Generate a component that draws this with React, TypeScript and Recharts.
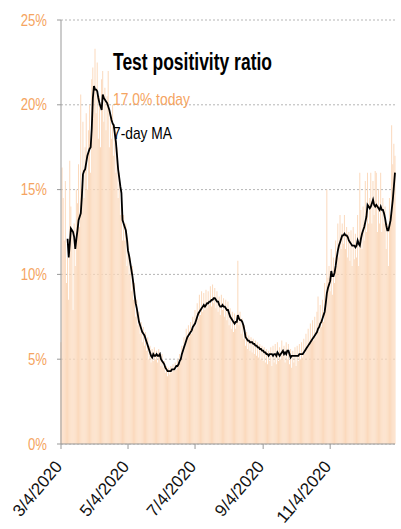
import { ComposedChart, Bar, Line, XAxis, YAxis, CartesianGrid } from "recharts";

const ORANGE = "#f5a461";
const BAR_FILL = "#fbd9bc";
const SANS = "'Liberation Sans', Arial, sans-serif";

// daily test positivity, % (one value per day starting 3/4/2020)
const DAILY = [
  6.0, 16.3, 14.5, 12.0, 15.5, 9.5, 11.0, 8.5, 16.7, 14.0,
  12.5, 7.9, 13.0, 10.5, 15.0, 14.2, 16.5, 12.8, 20.6, 15.0,
  19.0, 14.5, 17.5, 19.5, 15.0, 18.5, 20.0, 16.0, 21.5, 22.2,
  21.0, 23.3, 19.5, 22.5, 18.0, 20.5, 17.5, 21.5, 22.0, 19.0,
  21.0, 18.5, 20.5, 22.0, 17.5, 19.5, 18.0, 20.0, 17.0, 18.5,
  16.0, 17.5, 14.5, 16.0, 13.5, 14.5, 12.0, 13.5, 12.0, 13.0,
  10.5, 12.0, 10.0, 11.0, 9.0, 10.5, 8.5, 9.5, 7.5, 8.5,
  7.0, 7.8, 6.5, 7.2, 6.0, 6.9, 5.8, 6.6, 5.5, 6.3,
  5.0, 5.8, 4.8, 5.6, 4.9, 5.7, 5.0, 5.5, 4.8, 5.6,
  5.1, 4.6, 5.3, 4.5, 4.9, 4.2, 4.6, 4.0, 4.5, 4.1,
  4.6, 4.2, 4.7, 4.3, 4.8, 4.4, 5.0, 4.6, 5.3, 5.0,
  5.8, 5.4, 6.3, 5.8, 6.8, 6.2, 7.0, 6.3, 7.2, 6.5,
  7.5, 6.8, 7.9, 7.0, 8.3, 7.4, 8.8, 7.6, 9.0, 7.8,
  8.9, 7.9, 9.1, 8.0, 9.0, 8.2, 9.3, 8.1, 9.4, 8.3,
  9.2, 8.0, 9.0, 7.8, 8.7, 7.6, 8.8, 7.9, 8.6, 7.5,
  8.5, 7.3, 8.4, 7.0, 8.0, 6.8, 7.8, 6.6, 7.7, 6.8,
  7.6, 10.8, 7.0, 7.8, 6.5, 7.4, 6.2, 7.0, 5.8, 6.6,
  5.6, 6.4, 5.5, 6.3, 5.4, 6.2, 5.3, 6.1, 5.2, 6.0,
  5.1, 5.9, 5.0, 5.8, 4.9, 5.7, 4.8, 5.6, 4.7, 5.5,
  4.9, 5.7, 4.6, 5.8, 4.8, 5.9, 4.7, 6.0, 4.9, 5.7,
  5.0, 6.1, 5.2, 5.8, 4.8, 6.0, 5.0, 5.9, 4.7, 5.6,
  4.5, 5.5, 4.8, 5.7, 4.6, 5.8, 4.9, 5.9, 5.0, 6.0,
  5.1, 6.2, 5.3, 6.5, 5.6, 6.8, 5.8, 7.1, 6.0, 7.3,
  6.1, 7.5, 6.3, 7.8, 8.7, 6.6, 8.2, 6.9, 8.5, 7.2,
  9.5, 8.0, 15.0, 9.8, 10.5, 9.0, 11.5, 8.8, 11.0, 9.5,
  12.0, 10.5, 13.0, 11.0, 13.5, 11.5, 13.0, 11.8, 13.5, 11.5,
  12.8, 11.0, 12.5, 10.8, 12.6, 10.5, 12.8, 10.9, 12.4, 11.0,
  13.5, 10.5, 16.0, 13.8, 11.5, 14.0, 12.0, 15.5, 12.5, 16.0,
  13.0, 14.5, 16.0, 13.0, 15.5, 13.5, 16.1, 16.0, 12.5, 15.0,
  13.0, 16.0, 12.5, 14.5, 13.0, 14.0, 11.5, 13.0, 10.5, 14.5,
  13.5, 18.8, 16.5, 17.7, 17.0,
];

// 7-day moving average, %
const MA7 = [
  null, null, null, null, null, null, 12.1, 11.0, 11.8, 12.7,
  12.6, 12.5, 12.2, 11.5, 12.1, 12.6, 13.2, 13.4, 13.6, 14.6,
  15.9, 16.1, 16.2, 16.6, 17.0, 17.2, 17.4, 17.5, 18.6, 20.4,
  21.1, 20.9, 20.9, 20.8, 20.4, 20.1, 19.9, 19.7, 20.6, 20.4,
  20.3, 20.2, 20.1, 19.9, 19.7, 19.4, 19.1, 18.9, 18.8, 18.3,
  17.8, 17.0, 16.2, 15.7, 15.2, 14.8, 13.2, 13.0, 12.8, 12.6,
  12.1, 11.4, 11.1, 10.7, 10.3, 9.9, 9.4, 8.8, 8.3, 8.0,
  7.6, 7.2, 7.0, 6.8, 6.6, 6.5, 6.4, 6.2, 6.0, 5.8,
  5.6, 5.4, 5.2, 5.1, 5.3, 5.2, 5.2, 5.3, 5.2, 5.2,
  5.3, 5.0, 4.9, 4.8, 4.7, 4.5, 4.4, 4.3, 4.3, 4.3,
  4.3, 4.4, 4.4, 4.4, 4.5, 4.6, 4.6, 4.7, 4.9, 5.0,
  5.3, 5.5, 5.7, 5.9, 6.1, 6.3, 6.4, 6.5, 6.6, 6.7,
  6.9, 7.0, 7.1, 7.3, 7.5, 7.7, 7.8, 7.9, 8.0, 8.1,
  8.2, 8.1, 8.2, 8.3, 8.3, 8.4, 8.4, 8.5, 8.5, 8.6,
  8.6, 8.5, 8.4, 8.4, 8.2, 8.1, 8.1, 8.2, 8.1, 8.1,
  8.0, 7.9, 7.9, 7.7, 7.5, 7.4, 7.3, 7.2, 7.1, 7.2,
  7.2, 7.6, 7.4, 7.3, 7.3, 7.2, 7.0, 6.7, 6.3, 6.2,
  6.1, 6.1, 6.0, 6.0, 6.0, 5.9, 5.9, 5.8, 5.8, 5.7,
  5.7, 5.6, 5.6, 5.5, 5.5, 5.4, 5.4, 5.3, 5.3, 5.2,
  5.3, 5.3, 5.3, 5.2, 5.3, 5.3, 5.2, 5.4, 5.3, 5.2,
  5.3, 5.4, 5.5, 5.3, 5.4, 5.3, 5.5, 5.5, 5.3, 5.1,
  5.2, 5.2, 5.2, 5.2, 5.2, 5.2, 5.2, 5.3, 5.3, 5.3,
  5.3, 5.4, 5.5, 5.6, 5.7, 5.8, 5.9, 6.0, 6.1, 6.2,
  6.3, 6.4, 6.5, 6.6, 6.8, 6.9, 7.1, 7.2, 7.4, 7.6,
  7.8, 8.3, 8.9, 9.2, 9.4, 9.6, 10.2, 9.9, 9.9, 10.1,
  10.5, 11.0, 11.4, 11.7, 11.9, 12.1, 12.3, 12.3, 12.4, 12.3,
  12.3, 12.2, 12.0, 11.9, 11.8, 11.7, 11.7, 11.7, 11.6, 11.7,
  12.0, 11.8, 11.7, 12.1, 12.4, 12.6, 12.8, 13.1, 13.4, 14.1,
  14.0, 13.9, 14.0, 14.2, 14.4, 14.1, 14.0, 14.1, 14.0, 13.9,
  13.8, 14.0, 13.8, 13.8, 13.6, 13.3, 12.9, 12.6, 12.6, 12.9,
  13.2, 13.8, 14.4, 15.2, 16.0,
];

const TICK_DAYS = [0, 61, 122, 184, 245];
const TICK_LABELS = ["3/4/2020", "5/4/2020", "7/4/2020", "9/4/2020", "11/4/2020"];
const Y_TICKS = [0, 5, 10, 15, 20, 25];

const data = DAILY.map((v, i) => ({ day: i, daily: v, ma: MA7[i] }));

const DateTick = ({ x, y, payload }: any) => {
  const idx = TICK_DAYS.indexOf(payload.value);
  return (
    <g transform={`translate(${x + 2},${y + 16})`}>
      <text
        x={0}
        y={0}
        textAnchor="end"
        transform="rotate(-50)"
        fill="#111"
        fontSize={17}
        fontFamily={SANS}
      >
        {TICK_LABELS[idx]}
      </text>
    </g>
  );
};

const PctTick = ({ x, y, payload }: any) => (
  <text
    transform={`translate(${x},${y}) scale(0.82,1)`}
    textAnchor="end"
    dy="0.355em"
    fill={ORANGE}
    fontSize={16}
    fontFamily={SANS}
  >
    {`${payload.value}%`}
  </text>
);

export default function App() {
  return (
    <div style={{ position: "relative", width: 401, height: 529 }}>
      <style>{`body{margin:0;background:#fff}`}</style>
      <ComposedChart
        width={401}
        height={529}
        data={data}
        margin={{ top: 20, right: 6, bottom: 0, left: 0 }}
        barCategoryGap={0}
      >
        <CartesianGrid
          horizontal
          vertical={false}
          stroke="#b5b5b5"
          strokeDasharray="2 2"
        />
        <XAxis
          dataKey="day"
          type="number"
          domain={[0, 304]}
          ticks={TICK_DAYS}
          interval={0}
          height={85}
          axisLine={{ stroke: "#999" }}
          tickLine={{ stroke: "#999" }}
          tickSize={5}
          tick={<DateTick />}
        />
        <YAxis
          type="number"
          domain={[0, 25]}
          ticks={Y_TICKS}
          width={61}
          axisLine={{ stroke: "#999" }}
          tickLine={{ stroke: "#999" }}
          tickSize={4}
          tickMargin={10}
          tick={<PctTick />}
        />
        <Bar dataKey="daily" fill={BAR_FILL} barSize={1} isAnimationActive={false} />
        <Line
          dataKey="ma"
          type="linear"
          stroke="#000"
          strokeWidth={1.8}
          dot={false}
          isAnimationActive={false}
        />
      </ComposedChart>
      <svg
        width={401}
        height={529}
        style={{ position: "absolute", left: 0, top: 0, pointerEvents: "none" }}
      >
        <text
          x={113}
          y={70}
          fontFamily={SANS}
          fontWeight="bold"
          fontSize={23}
          fill="#000"
          textLength={159}
          lengthAdjust="spacingAndGlyphs"
        >
          Test positivity ratio
        </text>
        <text
          x={113}
          y={105}
          fontFamily={SANS}
          fontSize={17}
          fill={ORANGE}
          textLength={77}
          lengthAdjust="spacingAndGlyphs"
        >
          17.0% today
        </text>
        <text
          x={113}
          y={139}
          fontFamily={SANS}
          fontSize={17}
          fill="#000"
          textLength={59}
          lengthAdjust="spacingAndGlyphs"
        >
          7-day MA
        </text>
      </svg>
    </div>
  );
}
